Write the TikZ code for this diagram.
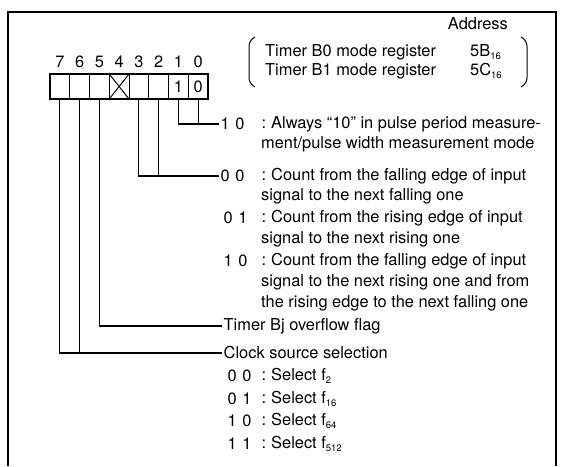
\documentclass[tikz,border=0pt]{standalone}
\usepackage{fontspec}
\setmainfont{TeX Gyre Heros}
\usetikzlibrary{positioning}
\newcommand{\lowidx}[1]{\raisebox{-0.4ex}{\fontsize{9.5}{9.5}\selectfont #1}}

\begin{document}
\begin{tikzpicture}[x=1pt, y=-1pt,
		bitcell/.style={draw, line width=1pt, minimum width=19.75pt, minimum height=25pt, inner sep=0pt, outer sep=0pt},
		txt/.style={anchor=west, inner sep=0pt},
		code/.style={anchor=west, inner sep=1.5pt},
		con/.style={line width=1.1pt},
		font=\fontsize{16.4}{16.4}\selectfont]
		% Bildbereich und Rahmen
		\useasboundingbox (0,0) rectangle (561,466);
		\draw[line width=1.6pt] (8,466) -- (8,12) -- (556,12) -- (556,466);
		% Register zeichnen
		\foreach \i in {7,...,0} {
			\node[bitcell] (b\i) at ({50+19.75*(7-\i)+9.875},86.5) {};
			\node[above=2.5pt of b\i] (n\i) {\i};
		}
		\draw[line width=2.4pt] (b7.north west) rectangle (b0.south east);
		\draw[line width=1pt] (b4.north west) -- (b4.south east) (b4.south west) -- (b4.north east);
		\node (v1) at (b1) {1};
		\node (v0) at (b0) {0};
		% Adressen
		\node[txt, anchor=east] (adr) at (508,24) {Address};
		\node[txt] (tb0) at (265,52) {Timer B0 mode register};
		\node[txt] (tb1) at (265,71) {Timer B1 mode register};
		\node[txt] (ab0) at (470,52) {5B\lowidx{16}};
		\node[txt] (ab1) at (470,71) {5C\lowidx{16}};
		\draw[line width=1pt, rounded corners=5pt] (255,37) -- (249,41) -- (249,83) -- (255,87);
		\draw[line width=1pt, rounded corners=5pt] (521,37) -- (527,41) -- (527,83) -- (521,87);
		% Bit 1, 0
		\node[code] (m10) at (219,124) {1\hspace{5.5pt}0};
		\node (m10k) at (264,124) {:};
		\node[txt] (m10a) at (271,124) {Always “10” in pulse period measure-};
		\node[txt] (m10b) at (261,144) {ment/pulse width measurement mode};
		% Bit 3, 2
		\node[code] (e00) at (219,176) {0\hspace{5.5pt}0};
		\node (e00k) at (264,176) {:};
		\node[txt] (e00a) at (271,176) {Count from the falling edge of input};
		\node[txt] (e00b) at (261,196) {signal to the next falling one};
		\node[code] (e01) at (222,218) {0\hspace{5.5pt}1};
		\node (e01k) at (264,218) {:};
		\node[txt] (e01a) at (271,218) {Count from the rising edge of input};
		\node[txt] (e01b) at (261,239) {signal to the next rising one};
		\node[code] (e10) at (222,261) {1\hspace{5.5pt}0};
		\node (e10k) at (264,261) {:};
		\node[txt] (e10a) at (271,261) {Count from the falling edge of input};
		\node[txt] (e10b) at (261,282) {signal to the next rising one and from};
		\node[txt] (e10c) at (261,303) {the rising edge to the next falling one};
		% Bit 5
		\node[code] (tovf) at (222,326) {Timer Bj overflow flag};
		% Bit 7, 6
		\node[code] (tclk) at (222,353) {Clock source selection};
		\foreach \a/\b/\c/\f/\y in {0/0/00/2/376, 0/1/01/16/399, 1/0/10/64/421, 1/1/11/512/444} {
			\node[code] (s\c) at (226,\y) {\a\hspace{5.5pt}\b};
			\node (s\c k) at (264,\y) {:};
			\node[txt] (s\c a) at (271,\y) {Select f\lowidx{\f}};
		}
		% Verbindungen
		\draw[con] (b1.south) |- (m10.west);
		\draw[con] (b0.south) -- (b0.south |- m10.west);
		\draw[con] (b3.south) |- (e00.west);
		\draw[con] (b2.south) -- (b2.south |- e00.west);
		\draw[con] (b5.south) |- (tovf.west);
		\draw[con] (b7.south) |- (tclk.west);
		\draw[con] (b6.south) -- (b6.south |- tclk.west);
	\end{tikzpicture}
\end{document}
